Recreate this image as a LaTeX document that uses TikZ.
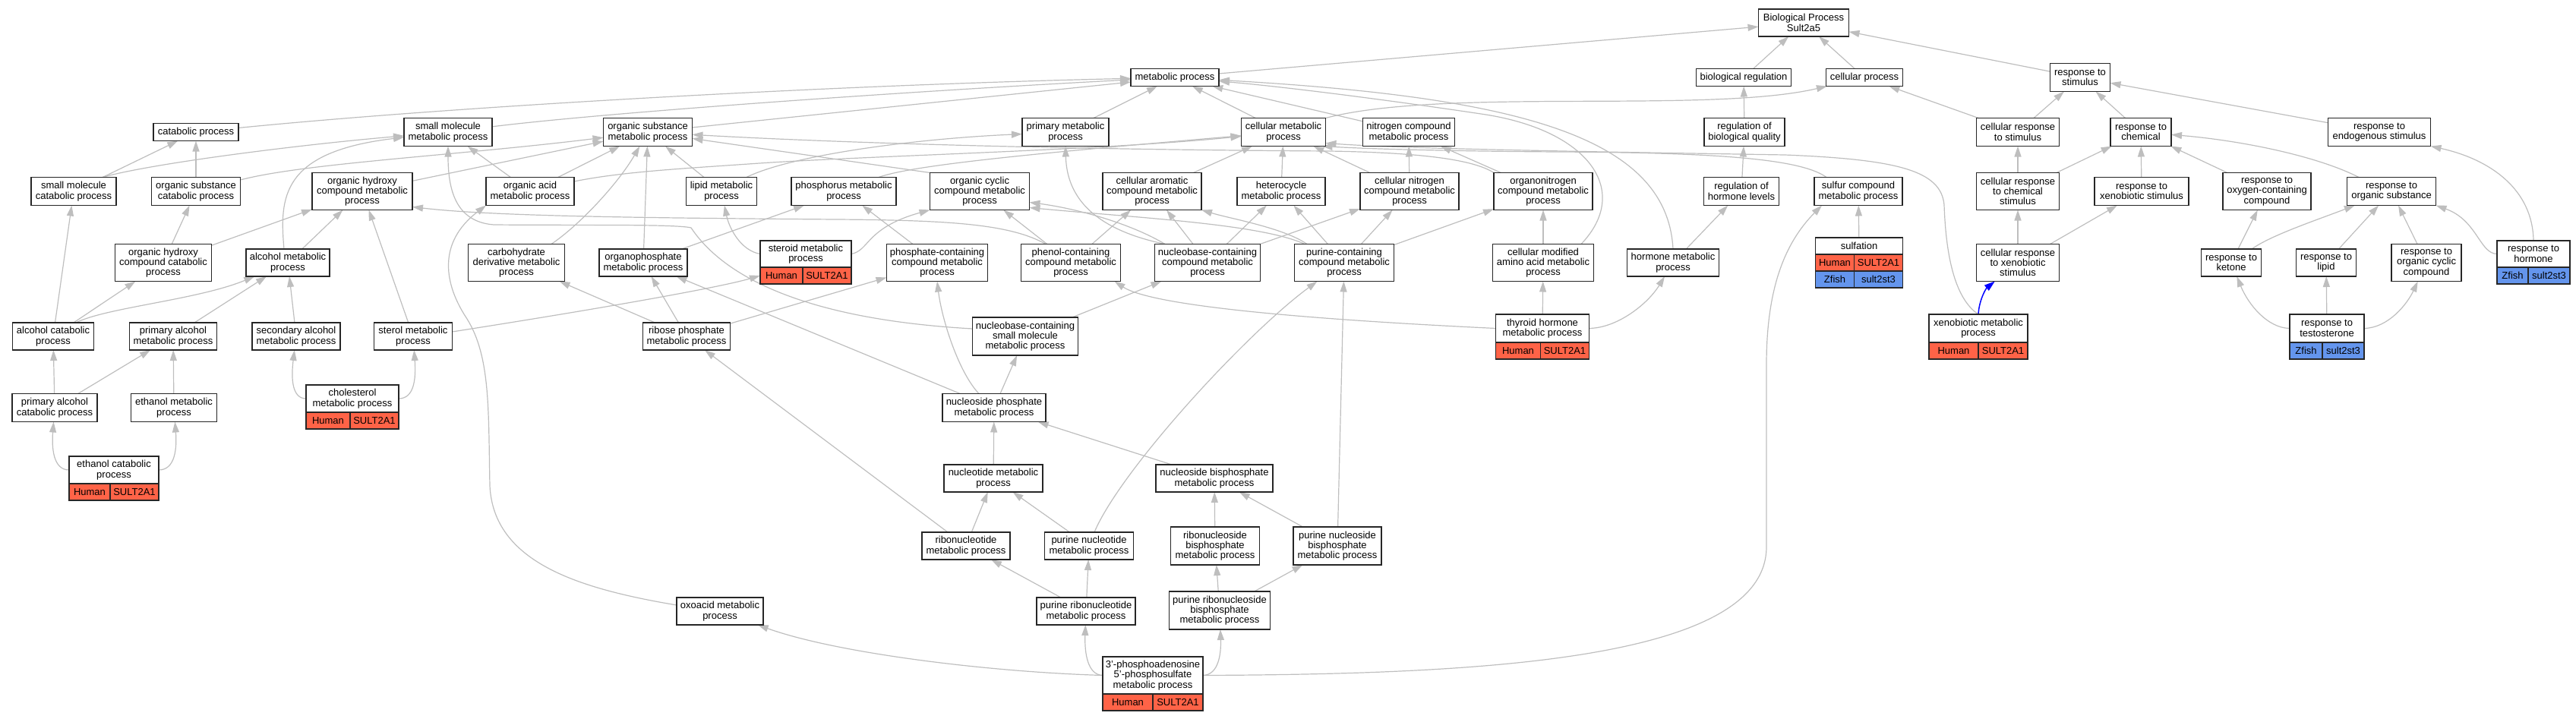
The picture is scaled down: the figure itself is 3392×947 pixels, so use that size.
\documentclass[tikz,border=0pt]{standalone}
\usepackage{fontspec}
\setmainfont{Liberation Sans}
\usetikzlibrary{arrows.meta}
\definecolor{edgegray}{HTML}{BEBEBE}
\definecolor{hred}{HTML}{FF6347}
\definecolor{zblue}{HTML}{6495ED}
\newcommand\gofont{\fontsize{13}{13.3}\selectfont}
\pgfdeclarelayer{bg}
\pgfsetlayers{bg,main}
\tikzset{
 gobox/.style={draw=black!85, line width=1.3pt, fill=white, inner sep=0pt, outer sep=0pt, align=center, font=\gofont},
 gcell/.style={gobox, minimum height=22pt, anchor=north west},
 hcell/.style={gcell, fill=hred},
 zcell/.style={gcell, fill=zblue},
 goedge/.style={draw=edgegray, line width=1.2pt, -{Triangle[length=14pt,width=9pt]}},
 xedge/.style={goedge, draw=blue, line width=1.5pt}
}
\newcommand\gonode[6]{\node[gobox,minimum width=#4pt,minimum height=#5pt] (#1) at (#2,#3) {#6};}
\begin{document}
\begin{tikzpicture}[x=1pt,y=-1pt]
\useasboundingbox (0,0) rectangle (3392,947);
% level 0-1
\gonode{BP}{2375}{30}{119}{36}{Biological Process\\Sult2a5}
\gonode{metab}{1547}{102}{116}{23}{metabolic process}
\gonode{bioreg}{2296}{102}{125}{23}{biological regulation}
\gonode{cellproc}{2455}{102}{101}{23}{cellular process}
\gonode{respstim}{2739}{102}{79}{37}{response to\\stimulus}
% level 2
\gonode{catab}{258}{174}{112}{23}{catabolic process}
\gonode{smallmol}{590}{174}{116}{37}{small molecule\\metabolic process}
\gonode{orgsub}{853}{174}{117}{37}{organic substance\\metabolic process}
\gonode{primary}{1403}{174}{114}{37}{primary metabolic\\process}
\gonode{cellmet}{1690}{174}{111}{37}{cellular metabolic\\process}
\gonode{nitro}{1855}{174}{121}{37}{nitrogen compound\\metabolic process}
\gonode{regbq}{2297}{174}{106}{37}{regulation of\\biological quality}
\gonode{cellrespstim}{2657}{174}{109}{37}{cellular response\\to stimulus}
\gonode{respchem}{2819}{174}{80}{37}{response to\\chemical}
\gonode{respendo}{3133}{174}{135}{37}{response to\\endogenous stimulus}
% level 3
\gonode{smcatab}{97}{252}{112}{37}{small molecule\\catabolic process}
\gonode{oscatab}{258}{252}{117}{37}{organic substance\\catabolic process}
\gonode{ohcmet}{477}{252}{132}{49}{organic hydroxy\\compound metabolic\\process}
\gonode{orgacid}{698}{252}{116}{37}{organic acid\\metabolic process}
\gonode{lipid}{950}{252}{93}{37}{lipid metabolic\\process}
\gonode{phosphorus}{1111}{252}{138}{37}{phosphorus metabolic\\process}
\gonode{orgcyc}{1290}{252}{131}{49}{organic cyclic\\compound metabolic\\process}
\gonode{cellarom}{1517}{252}{130}{49}{cellular aromatic\\compound metabolic\\process}
\gonode{hetero}{1687}{252}{116}{37}{heterocycle\\metabolic process}
\gonode{cellnitro}{1856}{252}{130}{49}{cellular nitrogen\\compound metabolic\\process}
\gonode{orgnitro}{2032}{252}{130}{49}{organonitrogen\\compound metabolic\\process}
\gonode{reghorm}{2293}{252}{99}{37}{regulation of\\hormone levels}
\gonode{sulfur}{2447}{252}{116}{37}{sulfur compound\\metabolic process}
\gonode{cellrespchem}{2657}{252}{109}{49}{cellular response\\to chemical\\stimulus}
\gonode{respxeno}{2820}{252}{124}{37}{response to\\xenobiotic stimulus}
\gonode{respoxy}{2985}{252}{116}{49}{response to\\oxygen-containing\\compound}
\gonode{resporg}{3149}{252}{117}{37}{response to\\organic substance}
% level 4
\gonode{ohccatab}{215}{346}{127}{49}{organic hydroxy\\compound catabolic\\process}
\gonode{alcohol}{379}{346}{110}{36}{alcohol metabolic\\process}
\gonode{carbo}{680}{346}{127}{49}{carbohydrate\\derivative metabolic\\process}
\gonode{organophos}{847}{346}{116}{36}{organophosphate\\metabolic process}
\gonode{steroid}{1061}{334.5}{120}{35}{steroid metabolic\\process}
\gonode{phoscont}{1234}{346}{133}{49}{phosphate-containing\\compound metabolic\\process}
\gonode{phenol}{1410}{346}{131}{49}{phenol-containing\\compound metabolic\\process}
\gonode{nucbase}{1590}{346}{139}{49}{nucleobase-containing\\compound metabolic\\process}
\gonode{purcont}{1770}{346}{131}{49}{purine-containing\\compound metabolic\\process}
\gonode{cellmodaa}{2032}{346}{133}{49}{cellular modified\\amino acid metabolic\\process}
\gonode{hormone}{2203}{346}{121}{36}{hormone metabolic\\process}
\gonode{sulfation}{2448}{324}{115}{22}{sulfation}
\gonode{cellrespxeno}{2657}{346}{109}{49}{cellular response\\to xenobiotic\\stimulus}
\gonode{respketone}{2938}{346}{79}{36}{response to\\ketone}
\gonode{resplipid}{3063}{346}{79}{36}{response to\\lipid}
\gonode{resporgcyc}{3195}{346}{92}{49}{response to\\organic cyclic\\compound}
\gonode{resphorm}{3336}{334.5}{96}{35}{response to\\hormone}
% level 5
\gonode{alccatab}{70}{443}{107}{36}{alcohol catabolic\\process}
\gonode{primalc}{228}{443}{115}{36}{primary alcohol\\metabolic process}
\gonode{secalc}{390}{443}{116}{36}{secondary alcohol\\metabolic process}
\gonode{sterol}{544}{443}{103}{36}{sterol metabolic\\process}
\gonode{ribose}{904}{443}{115}{36}{ribose phosphate\\metabolic process}
\gonode{nbsmall}{1350}{443}{139}{50}{nucleobase-containing\\small molecule\\metabolic process}
\gonode{thyroid}{2031}{432.5}{123}{37}{thyroid hormone\\metabolic process}
\gonode{xenomet}{2605}{432.5}{130}{37}{xenobiotic metabolic\\process}
\gonode{resptesto}{3064}{432.5}{98}{37}{response to\\testosterone}
% level 6
\gonode{primalccat}{72}{537}{112}{37}{primary alcohol\\catabolic process}
\gonode{ethmet}{229}{537}{113}{37}{ethanol metabolic\\process}
\gonode{chol}{464}{525}{122}{36}{cholesterol\\metabolic process}
\gonode{nucphos}{1309}{537}{136}{37}{nucleoside phosphate\\metabolic process}
% level 7
\gonode{ethcat}{150}{619}{118}{36}{ethanol catabolic\\process}
\gonode{nucleotide}{1308}{630}{130}{36}{nucleotide metabolic\\process}
\gonode{nucbis}{1599}{630}{154}{36}{nucleoside bisphosphate\\metabolic process}
% level 8
\gonode{ribonuc}{1272}{719}{116}{36}{ribonucleotide\\metabolic process}
\gonode{purnuc}{1434}{719}{117}{36}{purine nucleotide\\metabolic process}
\gonode{ribonucbis}{1600}{719}{117}{50}{ribonucleoside\\bisphosphate\\metabolic process}
\gonode{purnucbis}{1761}{719}{116}{50}{purine nucleoside\\bisphosphate\\metabolic process}
% level 9-10
\gonode{oxoacid}{948}{805}{114}{36}{oxoacid metabolic\\process}
\gonode{purribo}{1430}{805}{130}{36}{purine ribonucleotide\\metabolic process}
\gonode{purribobis}{1606}{804}{133}{50}{purine ribonucleoside\\bisphosphate\\metabolic process}
\gonode{paps}{1518}{889.5}{132}{49}{3'-phosphoadenosine\\5'-phosphosulfate\\metabolic process}
% gene rows
\node[hcell,minimum width=56pt] (steroidH) at (steroid.south west) {Human};
\node[hcell,minimum width=64pt] (steroidG) at (steroidH.north east) {SULT2A1};
\node[hcell,minimum width=51pt] (sulfationH) at (sulfation.south west) {Human};
\node[hcell,minimum width=64pt] (sulfationG) at (sulfationH.north east) {SULT2A1};
\node[zcell,minimum width=51pt] (sulfationZ) at (sulfationH.south west) {Zfish};
\node[zcell,minimum width=64pt] (sulfationZg) at (sulfationZ.north east) {sult2st3};
\node[hcell,minimum width=59pt] (thyroidH) at (thyroid.south west) {Human};
\node[hcell,minimum width=64pt] (thyroidG) at (thyroidH.north east) {SULT2A1};
\node[hcell,minimum width=65pt] (xenometH) at (xenomet.south west) {Human};
\node[hcell,minimum width=65pt] (xenometG) at (xenometH.north east) {SULT2A1};
\node[zcell,minimum width=41pt] (resphormZ) at (resphorm.south west) {Zfish};
\node[zcell,minimum width=55pt] (resphormG) at (resphormZ.north east) {sult2st3};
\node[zcell,minimum width=43pt] (resptestoZ) at (resptesto.south west) {Zfish};
\node[zcell,minimum width=55pt] (resptestoG) at (resptestoZ.north east) {sult2st3};
\node[hcell,minimum width=58pt] (cholH) at (chol.south west) {Human};
\node[hcell,minimum width=64pt] (cholG) at (cholH.north east) {SULT2A1};
\node[hcell,minimum width=54pt] (ethcatH) at (ethcat.south west) {Human};
\node[hcell,minimum width=64pt] (ethcatG) at (ethcatH.north east) {SULT2A1};
\node[hcell,minimum width=66pt] (papsH) at (paps.south west) {Human};
\node[hcell,minimum width=66pt] (papsG) at (papsH.north east) {SULT2A1};
\begin{pgfonlayer}{bg}
% top
\draw[goedge] (metab) -- (BP);
\draw[goedge] (bioreg) -- (BP);
\draw[goedge] (cellproc) -- (BP);
\draw[goedge] (respstim) -- (BP);
\draw[goedge] (regbq) -- (bioreg);
\draw[goedge] (reghorm) -- (regbq);
\draw[goedge] (hormone) -- (reghorm);
\draw[goedge] (cellrespstim) -- (cellproc);
\draw[goedge] (cellmet.north east) .. controls (1900,115) and (2250,150) .. (cellproc);
\draw[goedge] (cellmet) -- (metab);
\draw[goedge] (primary) -- (metab);
\draw[goedge] (orgsub) -- (metab);
\draw[goedge] (smallmol) .. controls (800,148) and (1200,120) .. (metab);
\draw[goedge] (catab) .. controls (600,140) and (1100,112) .. (metab);
\draw[goedge] (nitro) -- (metab);
\draw[goedge] (hormone.north) .. controls (2195,180) and (2000,128) .. (metab);
\draw[goedge] ([xshift=50pt]cellmodaa.north) .. controls (2150,250) and (2090,170) .. (1950,150) .. controls (1850,135) and (1700,115) .. (metab);
% response side
\draw[goedge] (respchem) -- (respstim);
\draw[goedge] (cellrespstim) -- (respstim);
\draw[goedge] (respendo) -- (respstim);
\draw[goedge] (cellrespchem) -- (cellrespstim);
\draw[goedge] (cellrespchem) -- (respchem);
\draw[goedge] (respxeno) -- (respchem);
\draw[goedge] (respoxy) -- (respchem);
\draw[goedge] ([xshift=-43pt]resporg.north) .. controls (3050,205) and (2950,185) .. (respchem);
\draw[goedge] (cellrespxeno) -- (cellrespchem);
\draw[goedge] (cellrespxeno) -- (respxeno);
\draw[xedge] (xenomet.north) .. controls (2606,395) and (2615,380) .. (cellrespxeno);
\draw[goedge] (xenomet.north) .. controls (2572,392) and (2562,330) .. (2560,270) .. controls (2556,225) and (2500,210) .. (2350,204) .. controls (2100,200) and (1850,196) .. ([yshift=4pt]cellmet.south east);
\draw[goedge] (respketone) -- (respoxy);
\draw[goedge] ([xshift=27pt]respketone.north) .. controls (2990,310) and (3050,290) .. (resporg);
\draw[goedge] (resplipid) -- (resporg);
\draw[goedge] (resporgcyc) -- (resporg);
\draw[goedge] (resphorm.west) .. controls (3265,334) and (3262,290) .. (resporg.south east);
\draw[goedge] (resphorm.north) .. controls (3335,250) and (3280,210) .. (respendo.south east);
\draw[goedge] (resptesto.west) .. controls (2985,432) and (2960,400) .. (respketone);
\draw[goedge] (resptesto) -- (resplipid);
\draw[goedge] (resptesto.east) .. controls (3145,432) and (3170,400) .. (resporgcyc);
% sulfur, thyroid
\draw[goedge] (sulfation) -- (sulfur);
\draw[goedge] ([xshift=16pt]sulfur.north west) .. controls (2370,208) and (2250,201) .. (2050,200) .. controls (1900,199) and (1800,196) .. ([xshift=-5pt]cellmet.south east);
\draw[goedge] (paps.east) .. controls (1950,888) and (2326,870) .. (2326,720) -- (2326,480) .. controls (2326,380) and (2350,320) .. ([xshift=10pt]sulfur.south west);
\draw[goedge] (thyroid) -- (cellmodaa);
\draw[goedge] (thyroid.east) .. controls (2130,432) and (2170,400) .. (hormone);
\draw[goedge] (thyroid.west) .. controls (1750,422) and (1520,405) .. ([xshift=-8pt]phenol.south east);
\draw[goedge] (cellmodaa) -- (orgnitro);
\draw[goedge] (orgnitro) -- (nitro);
\draw[goedge] (orgnitro.north west) .. controls (1940,210) and (1870,201) .. (1750,199) .. controls (1400,197) and (1100,188) .. (orgsub);
\draw[goedge] (cellnitro) -- (nitro);
\draw[goedge] (cellnitro) -- (cellmet);
\draw[goedge] (hetero) -- (cellmet);
\draw[goedge] (cellarom) -- (cellmet);
\draw[goedge] ([xshift=46pt]phosphorus.north) .. controls (1200,218) and (1350,203) .. (cellmet);
\draw[goedge] ([yshift=13pt]orgacid.east) .. controls (820,226) and (900,222) .. (1000,215) .. controls (1150,205) and (1450,198) .. (cellmet);
\draw[goedge] ([xshift=33pt]lipid.north) .. controls (1040,205) and (1200,183) .. (primary);
\draw[goedge] (lipid) -- (orgsub);
\draw[goedge] ([xshift=-56pt]nucbase.north) .. controls (1455,305) and (1405,270) .. (primary.south);
\draw[goedge] (nucbase) -- (cellarom);
\draw[goedge] (nucbase) -- (hetero);
\draw[goedge] (nucbase) -- (cellnitro);
\draw[goedge] ([xshift=-56pt]nucbase.north) .. controls (1490,295) and (1420,275) .. ([yshift=10pt]orgcyc.south east);
\draw[goedge] ([xshift=-52pt]purcont.north) .. controls (1660,295) and (1500,287) .. ([yshift=3pt]orgcyc.south east);
\draw[goedge] ([xshift=-49pt]purcont.north) .. controls (1690,300) and (1620,288) .. (cellarom.south east);
\draw[goedge] (purcont) -- (hetero);
\draw[goedge] (purcont) -- (cellnitro);
\draw[goedge] (purcont) -- (orgnitro);
\draw[goedge] (phenol) -- (orgcyc);
\draw[goedge] (phenol) -- (cellarom);
\draw[goedge] ([xshift=-33pt]phenol.north) .. controls (1330,295) and (1250,290) .. (1100,289) .. controls (850,287) and (650,285) .. ([yshift=4pt]ohcmet.south east);
\draw[goedge] (orgcyc.north west) -- (orgsub);
\draw[goedge] (phoscont) -- (phosphorus);
\draw[goedge] (organophos) -- (phosphorus);
\draw[goedge] (organophos) -- (orgsub);
\draw[goedge] (steroid.west) .. controls (975,330) and (960,300) .. (lipid);
\draw[goedge] (steroid.east) .. controls (1145,330) and (1140,300) .. (orgcyc.south west);
\draw[goedge] ([yshift=6pt]sterol.east) .. controls (800,405) and (950,378) .. (steroidH.west);
\draw[goedge] (sterol) -- (ohcmet);
\draw[goedge] (chol.west) .. controls (385,525) and (383,500) .. (secalc);
\draw[goedge] (chol.east) .. controls (545,525) and (548,500) .. (sterol);
\draw[goedge] (secalc) -- (alcohol);
\draw[goedge] (primalc) -- (alcohol);
\draw[goedge] ([xshift=30pt]alccatab.north) .. controls (140,405) and (260,395) .. (alcohol);
\draw[goedge] (alccatab) -- (ohccatab);
\draw[goedge] (alccatab) -- (smcatab);
\draw[goedge] (primalccat) -- (alccatab);
\draw[goedge] (primalccat) -- (primalc);
\draw[goedge] (ethmet) -- (primalc);
\draw[goedge] (ethcat.west) .. controls (70,619) and (68,590) .. (primalccat);
\draw[goedge] (ethcat.east) .. controls (231,619) and (233,590) .. (ethmet);
\draw[goedge] (ohccatab) -- (oscatab);
\draw[goedge] (ohccatab) -- (ohcmet);
\draw[goedge] (alcohol) -- (ohcmet);
\draw[goedge] ([xshift=-5pt]alcohol.north) .. controls (368,260) and (370,200) .. (smallmol);
\draw[goedge] (smcatab) -- (catab);
\draw[goedge] ([xshift=38pt]smcatab.north) .. controls (200,215) and (400,190) .. (smallmol);
\draw[goedge] (oscatab) -- (catab);
\draw[goedge] ([yshift=15pt]oscatab.east) .. controls (400,215) and (600,205) .. (orgsub);
\draw[goedge] (ohcmet) -- (orgsub);
\draw[goedge] (orgacid) -- (smallmol);
\draw[goedge] (orgacid) -- (orgsub);
\draw[goedge] ([yshift=8pt]oxoacid.west) .. controls (760,775) and (650,740) .. (645,640) .. controls (643,540) and (646,470) .. (615,420) .. controls (585,375) and (575,320) .. (orgacid.south west);
\draw[goedge] ([xshift=46pt]carbo.north) .. controls (765,295) and (815,240) .. (orgsub);
\draw[goedge] (ribose) -- (carbo);
\draw[goedge] (ribose) -- (organophos);
\draw[goedge] (ribose) -- (phoscont);
\draw[goedge] (ribonuc) -- (ribose);
\draw[goedge] ([yshift=10pt]nbsmall.west) .. controls (1050,420) and (950,360) .. (910,300) .. controls (890,295) and (760,297) .. (650,296) .. controls (600,292) and (590,250) .. (smallmol.south);
\draw[goedge] (nbsmall) -- (nucbase);
\draw[goedge] (nucphos) -- (nbsmall);
\draw[goedge] ([xshift=-20pt]nucphos.north) .. controls (1262,490) and (1240,420) .. (phoscont.south);
\draw[goedge] (nucphos) -- (organophos);
\draw[goedge] (nucleotide) -- (nucphos);
\draw[goedge] (nucbis) -- (nucphos);
\draw[goedge] (ribonuc) -- (nucleotide);
\draw[goedge] (purnuc) -- (nucleotide);
\draw[goedge] ([xshift=7pt]purnuc.north) .. controls (1475,620) and (1640,440) .. ([xshift=30pt]purcont.south west);
\draw[goedge] (purnucbis) -- (purcont);
\draw[goedge] (purnucbis) -- (nucbis);
\draw[goedge] (ribonucbis) -- (nucbis);
\draw[goedge] (purribo) -- (ribonuc);
\draw[goedge] (purribo) -- (purnuc);
\draw[goedge] (purribobis) -- (ribonucbis);
\draw[goedge] (purribobis) -- (purnucbis);
\draw[goedge] (paps.west) .. controls (1300,885) and (1100,860) .. (oxoacid);
\draw[goedge] (paps.west) .. controls (1432,889) and (1428,860) .. (purribo);
\draw[goedge] (paps.east) .. controls (1605,889) and (1608,860) .. (purribobis);
\end{pgfonlayer}
\end{tikzpicture}
\end{document}
